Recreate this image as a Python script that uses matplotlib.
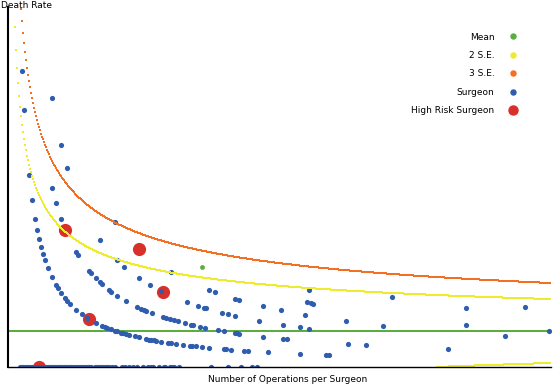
import numpy as np
import matplotlib
matplotlib.use("Agg")
import matplotlib.pyplot as plt
from matplotlib.lines import Line2D

# surgeons grouped by number of deaths -> number of operations
ops_0 = [11, 13, 14, 16, 18, 19, 21, 23, 25, 26, 28, 30, 32, 33, 35, 37, 39, 41, 42, 44,
         46, 48, 50, 51, 53, 55, 57, 59, 61, 62, 64, 66, 68, 70, 72, 73, 75, 77, 79, 80,
         82, 86, 88, 90, 92, 94, 96, 98, 100, 103, 106, 113, 116, 120, 124, 128, 134,
         139, 142, 144, 150, 155, 156, 161, 163, 165, 170, 202, 219, 232, 243, 248]
ops_1 = [13, 15, 20, 23, 26, 28, 30, 32, 34, 36, 39, 43, 47, 49, 52, 56, 58, 61, 67, 73,
         78, 87, 93, 96, 98, 102, 106, 108, 112, 114, 117, 120, 126, 130, 137, 140, 142,
         145, 147, 152, 159, 162, 167, 174, 181, 183, 187, 193, 200, 215, 217, 222, 235,
         239, 259, 291, 317, 320]
ops_2 = [43, 47, 52, 67, 69, 80, 82, 87, 91, 93, 100, 102, 108, 117, 128, 132, 135, 137,
         143, 154, 157, 161, 165, 169, 176, 182, 184, 191, 196, 209, 215, 226, 228, 230,
         254, 274, 278, 339, 357, 439]
ops_3 = [43, 52, 58, 91, 108, 115, 130, 141, 152, 178, 189, 195, 197, 213, 219, 226, 250,
         274, 291, 300]
ops_4 = [106, 162, 200, 206, 226, 230, 254, 272, 296, 337, 374, 496]
ops_5 = [298, 302, 304, 457, 540]
ops_6 = [300]
ops_7 = [383, 457]
ops_8 = [516]

# high risk surgeons
risk_ops = [30, 80, 56, 154, 130]
risk_deaths = [0, 1, 2, 3, 4]

# odd green point
green_ops = [193]
green_deaths = [5]

mean_rate = 0.00935
n_max = 541

groups = [ops_0, ops_1, ops_2, ops_3, ops_4, ops_5, ops_6, ops_7, ops_8]
surg_n = []
surg_rate = []
for k, ops in enumerate(groups):
    for n in ops:
        surg_n.append(n)
        surg_rate.append(k / n)

n = np.arange(1, n_max + 1)
se = np.sqrt(mean_rate / n)
upper2 = mean_rate + 2 * se
lower2 = mean_rate - 2 * se
upper3 = mean_rate + 3 * se
pos = lower2 >= 0

c_mean = '#5aae3c'
c_2se = '#eeea2e'
c_3se = '#f36f21'
c_surg = '#2e5cae'
c_risk = '#d8302a'

fig = plt.figure(figsize=(5.56, 3.87), dpi=100)
ax = fig.add_axes([8 / 556, 20 / 387, 543 / 556, 360 / 387])

ax.scatter(risk_ops, np.array(risk_deaths) / np.array(risk_ops), s=90, color=c_risk,
           linewidths=0, zorder=2)
n_mean = np.arange(-1, n_max + 1)
ax.scatter(n_mean, np.full(n_mean.shape, mean_rate), s=3, marker='s', color=c_mean,
           linewidths=0, zorder=2.5)
ax.scatter(surg_n, surg_rate, s=14, color=c_surg, linewidths=0, zorder=3)
ax.scatter(green_ops, np.array(green_deaths) / np.array(green_ops), s=12, color=c_mean,
           linewidths=0, zorder=3)
ax.scatter(n, upper2, s=2, marker='s', color=c_2se, linewidths=0, zorder=4)
ax.scatter(n[pos], lower2[pos], s=2, marker='s', color=c_2se, linewidths=0, zorder=4)
ax.scatter(n, upper3, s=2, marker='s', color=c_3se, linewidths=0, zorder=4)

ax.set_xlim(-1.4, 541.6)
ax.set_ylim(0, 360 / 3850)
ax.set_xticks([])
ax.set_yticks([])
ax.spines['top'].set_visible(False)
ax.spines['right'].set_visible(False)
ax.spines['left'].set_linewidth(1.5)
ax.spines['bottom'].set_linewidth(1.0)
ax.spines['left'].set_zorder(5)
ax.spines['bottom'].set_zorder(5)

handles = [
    Line2D([], [], marker='o', ls='', color=c_mean, markersize=3.6),
    Line2D([], [], marker='o', ls='', color=c_2se, markersize=3.6),
    Line2D([], [], marker='o', ls='', color=c_3se, markersize=3.6),
    Line2D([], [], marker='o', ls='', color=c_surg, markersize=3.6),
    Line2D([], [], marker='o', ls='', color=c_risk, markersize=6.5),
]
labels = ['Mean', '2 S.E.', '3 S.E.', 'Surgeon', 'High Risk Surgeon']
ax.legend(handles, labels, frameon=False, markerfirst=False, fontsize=6.5,
          loc='upper right', bbox_to_anchor=(518 / 556, 1 - 32.5 / 387),
          bbox_transform=fig.transFigure, borderaxespad=0, borderpad=0,
          handlelength=1.0, handletextpad=1.6, labelspacing=1.05)

fig.text(1 / 556, 1 - 7.5 / 387, 'Death Rate', fontsize=6.5, va='baseline', ha='left')
fig.text(288 / 556, (387 - 382.5) / 387, 'Number of Operations per Surgeon', fontsize=6.5,
         va='baseline', ha='center')

fig.savefig('out.png', dpi=100)
